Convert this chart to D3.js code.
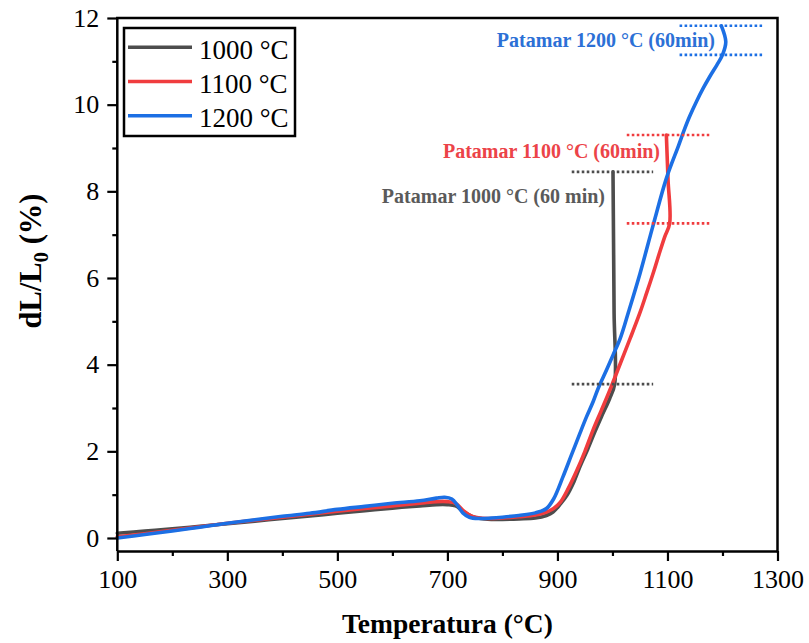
<!DOCTYPE html>
<html>
<head>
<meta charset="utf-8">
<script src="https://cdn.jsdelivr.net/npm/d3@7"></script>
<style>
  html, body { margin: 0; padding: 0; background: #fff; }
  svg { display: block; }
  text { font-family: "Liberation Serif", "Times New Roman", serif; }
</style>
</head>
<body>
<svg id="chart" width="809" height="643"></svg>
<script>
// ---------------- data ----------------
const seriesNames = ["1000 °C", "1100 °C", "1200 °C"];

const temp1000 = [100,150,200,250,300,350,400,450,500,550,600,650,680,700,715,730,745,760,780,800,830,860,880,892,905,917,930,941,955,968,980,995,1004,1003,1002,1001];
const dl1000   = [0.11,0.16,0.21,0.27,0.33,0.39,0.45,0.51,0.57,0.63,0.69,0.74,0.77,0.77,0.74,0.60,0.50,0.45,0.43,0.43,0.44,0.46,0.52,0.60,0.78,0.98,1.30,1.65,2.05,2.45,2.80,3.22,3.55,5.18,6.82,8.45];

const temp1100 = [100,150,200,250,300,350,400,450,500,550,600,650,680,700,715,730,745,760,780,800,830,860,880,893,905,920,935,950,965,980,998,1015,1032,1050,1062,1075,1086,1095,1104,1101,1098];
const dl1100   = [0.03,0.10,0.18,0.26,0.34,0.41,0.48,0.55,0.62,0.68,0.74,0.80,0.84,0.84,0.80,0.62,0.50,0.46,0.45,0.46,0.49,0.53,0.60,0.68,0.82,1.15,1.55,2.00,2.50,2.95,3.50,4.05,4.60,5.20,5.65,6.15,6.60,6.95,7.26,8.28,9.30];

const temp1200 = [100,150,200,250,300,350,400,450,500,550,600,650,680,695,708,718,728,740,758,780,800,830,860,880,893,910,925,941,953,965,974,990,1001,1014,1030,1050,1074,1098,1120,1130,1140,1153,1165,1177,1190,1200,1206,1198];
const dl1200   = [0.00,0.08,0.16,0.25,0.34,0.42,0.50,0.57,0.66,0.73,0.80,0.86,0.92,0.94,0.90,0.76,0.58,0.48,0.45,0.46,0.48,0.52,0.58,0.68,0.90,1.41,1.90,2.42,2.80,3.15,3.45,3.90,4.22,4.60,5.25,6.10,7.22,8.30,9.05,9.40,9.72,10.08,10.38,10.65,10.92,11.15,11.45,11.82];

// isothermal holds (patamar): temperature range of dotted markers, start / end values
const holdLabels = ["Patamar 1000 °C (60 min)", "Patamar 1100 °C (60min)", "Patamar 1200 °C (60min)"];
const holdMarkT0 = [926, 1026, 1122];
const holdMarkT1 = [1074, 1176, 1272];
const holdStart  = [3.55, 7.26, 11.15];
const holdEnd    = [8.45, 9.30, 11.82];

const xMajorTicks = [100,300,500,700,900,1100,1300];
const xMinorTicks = [200,400,600,800,1000,1200];
const yMajorTicks = [0,2,4,6,8,10,12];
const yMinorTicks = [1,3,5,7,9,11];

// ---------------- layout / style ----------------
const colors = ["#4d4d4d", "#f03c3e", "#1c6fe4"];
const labelColors = ["#5a5a5a", "#ec4348", "#2c70d6"];
const svg = d3.select("#chart");
const L = 117.3, R = 777.5, T = 18, B = 551;

const x = d3.scaleLinear().domain([100, 1300]).range([L, R]);
const y = d3.scaleLinear().domain([-0.3, 12]).range([B, T]);

const series = [
  temp1000.map((t, i) => [t, dl1000[i]]),
  temp1100.map((t, i) => [t, dl1100[i]]),
  temp1200.map((t, i) => [t, dl1200[i]])
];

// ---------------- lines ----------------
const line = d3.line().x(d => x(d[0])).y(d => y(d[1])).curve(d3.curveCatmullRom.alpha(0.5));
svg.append("g").selectAll("path").data(series).join("path")
  .attr("d", line)
  .attr("fill", "none")
  .attr("stroke", (d, i) => colors[i])
  .attr("stroke-width", 3.6)
  .attr("stroke-linejoin", "round")
  .attr("stroke-linecap", "round");

// ---------------- hold markers ----------------
const ann = svg.append("g");
holdLabels.forEach((lab, i) => {
  [holdStart[i], holdEnd[i]].forEach(v => {
    ann.append("line")
      .attr("x1", x(holdMarkT0[i])).attr("x2", x(holdMarkT1[i]))
      .attr("y1", y(v)).attr("y2", y(v))
      .attr("stroke", colors[i]).attr("stroke-width", 2.6)
      .attr("stroke-dasharray", "2.6,2.4");
  });
});
const labelPos = [[605, 203], [660, 158], [715, 47]];
holdLabels.forEach((lab, i) => {
  ann.append("text")
    .attr("x", labelPos[i][0]).attr("y", labelPos[i][1])
    .attr("text-anchor", "end")
    .attr("font-size", 20).attr("font-weight", "bold")
    .attr("fill", labelColors[i])
    .text(lab);
});

// ---------------- axes ----------------
function styleAxis(g) {
  g.selectAll(".domain").attr("stroke", "#000").attr("stroke-width", 2.5);
  g.selectAll(".tick line").attr("stroke", "#000").attr("stroke-width", 2.2);
  g.selectAll(".tick text").attr("font-size", 26).attr("fill", "#000")
    .attr("font-family", "'Liberation Serif', 'Times New Roman', serif");
}
const gx = svg.append("g").attr("transform", `translate(0,${B})`)
  .call(d3.axisBottom(x).tickValues(xMajorTicks).tickSize(10).tickSizeOuter(0).tickPadding(9).tickFormat(d3.format("d")));
styleAxis(gx);
const gxm = svg.append("g").attr("transform", `translate(0,${B})`)
  .call(d3.axisBottom(x).tickValues(xMinorTicks).tickSize(5).tickFormat(""));
gxm.select(".domain").remove();
styleAxis(gxm);

const gy = svg.append("g").attr("transform", `translate(${L},0)`)
  .call(d3.axisLeft(y).tickValues(yMajorTicks).tickSize(10).tickSizeOuter(0).tickPadding(8).tickFormat(d3.format("d")));
styleAxis(gy);
gy.select(".domain").attr("d", `M0,${B}V${T}`);
const gym = svg.append("g").attr("transform", `translate(${L},0)`)
  .call(d3.axisLeft(y).tickValues(yMinorTicks).tickSize(5).tickFormat(""));
gym.select(".domain").remove();
styleAxis(gym);

// frame top & right
svg.append("path")
  .attr("d", `M${L},${T}H${R}V${B}`)
  .attr("fill", "none").attr("stroke", "#000").attr("stroke-width", 2.5)
  .attr("stroke-linecap", "square");

// ---------------- axis titles ----------------
svg.append("text")
  .attr("x", (L + R) / 2).attr("y", 633)
  .attr("text-anchor", "middle")
  .attr("font-size", 27.5).attr("font-weight", "bold")
  .text("Temperatura (°C)");

const yt = svg.append("text")
  .attr("transform", "translate(41,261) rotate(-90)")
  .attr("text-anchor", "middle")
  .attr("font-size", 30.5).attr("font-weight", "bold");
yt.append("tspan").text("dL/L");
yt.append("tspan").attr("font-size", 21).attr("dy", 7).text("0");
yt.append("tspan").attr("dy", -7).text(" (%)");

// ---------------- legend ----------------
const lg = svg.append("g");
lg.append("rect").attr("x", 124).attr("y", 28).attr("width", 171).attr("height", 108)
  .attr("fill", "#fff").attr("stroke", "#000").attr("stroke-width", 2.5);
seriesNames.forEach((n, i) => {
  const yy = 47.3 + i * 34.2;
  lg.append("line").attr("x1", 128).attr("x2", 192).attr("y1", yy).attr("y2", yy)
    .attr("stroke", colors[i]).attr("stroke-width", 3.6);
  lg.append("text").attr("x", 199).attr("y", yy + 11.5)
    .attr("font-size", 27).attr("fill", "#000").text(n);
});
</script>
</body>
</html>
